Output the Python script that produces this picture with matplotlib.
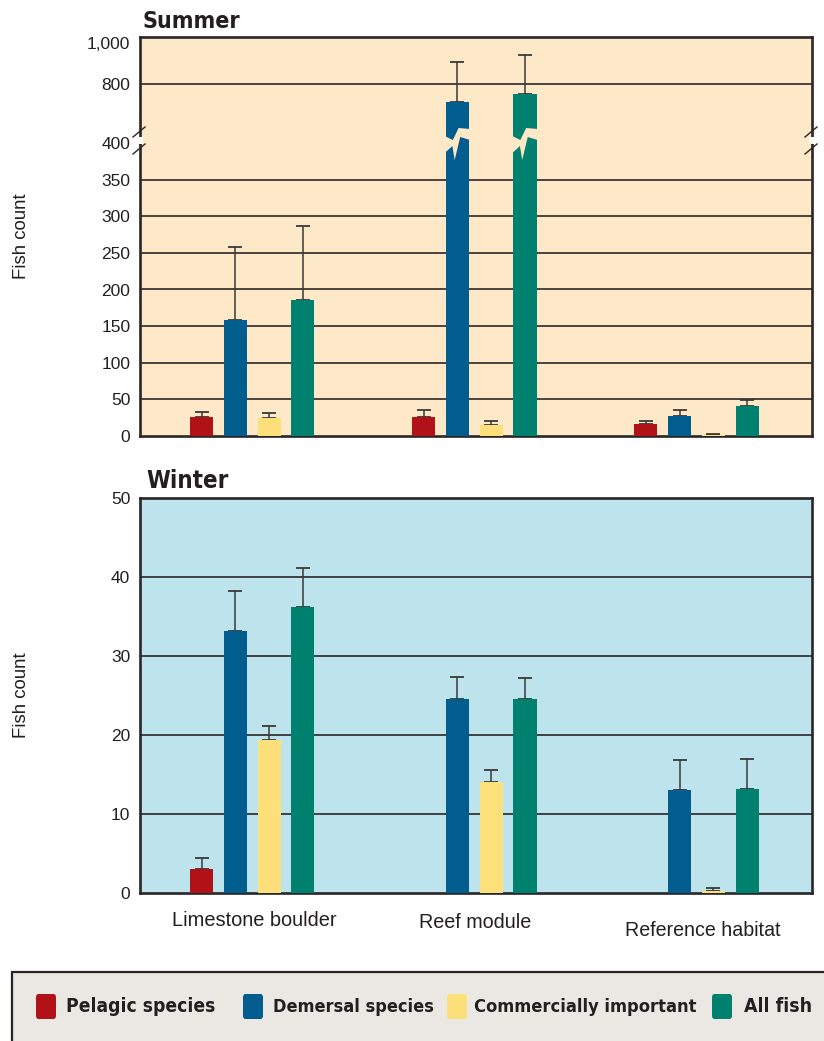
from __future__ import annotations

import matplotlib

matplotlib.use("Agg")
import matplotlib.pyplot as plt
import matplotlib.transforms as mtransforms
import numpy as np
from matplotlib import font_manager
from matplotlib.lines import Line2D
from matplotlib.patches import FancyBboxPatch, Polygon, Rectangle

FIG_W, FIG_H = 824, 1041

sites = ["Limestone boulder", "Reef module", "Reference habitat"]
series = ["Pelagic species", "Demersal species", "Commercially important", "All fish"]
colors = ["#b11218", "#005d8d", "#fee07b", "#00816f"]

# 夏 (平均値と上側の誤差)
summer_pelagic = [26, 26, 16]
summer_pelagic_err = [7, 10, 5]
summer_demersal = [158, 714, 27]
summer_demersal_err = [100, 193, 8]
summer_commercial = [24, 15, 1]
summer_commercial_err = [7, 6, 1.5]
summer_all = [185, 750, 41]
summer_all_err = [102, 190, 8]

# 冬 (nan は棒なし)
winter_pelagic = [3.1, np.nan, np.nan]
winter_pelagic_err = [1.3, np.nan, np.nan]
winter_demersal = [33.2, 24.6, 13.1]
winter_demersal_err = [5.0, 2.7, 3.7]
winter_commercial = [19.4, 14.0, 0.2]
winter_commercial_err = [1.8, 1.6, 0.4]
winter_all = [36.2, 24.6, 13.2]
winter_all_err = [5.0, 2.6, 3.7]

summer_low_ticks = [0, 50, 100, 150, 200, 250, 300, 350, 400]
summer_high_ticks = [800, 1000]
summer_high_labels = ["800", "1,000"]
winter_ticks = [0, 10, 20, 30, 40, 50]

SUMMER_BG = "#fde9c7"
WINTER_BG = "#bde4ed"
FRAME = "#2a2627"
ERR = "#3b3838"
INK = "#231f20"

plt.rcParams["font.family"] = ["Liberation Sans", "DejaVu Sans"]

BAR_W = 0.104
BAR_STEP = 0.152
XLIM = (-0.505, 2.52)


def narrow_bold() -> dict:
    """細身の太字フォントがあればそれを、なければ通常の太字を使う。"""
    for f in font_manager.fontManager.ttflist:
        name = f.name.lower()
        w = f.weight
        if isinstance(w, str):
            w = 700 if "bold" in w else 400
        narrow = "narrow" in name or "condensed" in name or str(f.stretch) in (
            "condensed", "semi-condensed", "extra-condensed")
        if narrow and w >= 600:
            return {"fontproperties": font_manager.FontProperties(fname=f.fname)}
    return {"family": ["Liberation Sans", "DejaVu Sans"], "fontweight": "bold"}


def fx(x: float) -> float:
    return x / FIG_W


def fy(y: float) -> float:
    return 1 - y / FIG_H


def fit_text(fig, t, target_px: float, along: str = "width") -> None:
    """テキストの幅(または高さ)が target_px になるようにサイズを合わせる。"""
    r = fig.canvas.get_renderer()
    bb = t.get_window_extent(r)
    cur = bb.width if along == "width" else bb.height
    t.set_fontsize(t.get_fontsize() * target_px / cur)


def add_axes_px(fig, left, top, right, bottom, bg):
    ax = fig.add_axes([fx(left), fy(bottom), (right - left) / FIG_W, (bottom - top) / FIG_H])
    ax.set_facecolor(bg)
    ax.set_xlim(*XLIM)
    ax.set_xticks([])
    for spine in ax.spines.values():
        spine.set_color(FRAME)
        spine.set_linewidth(1.9)
    ax.tick_params(axis="y", length=0, pad=7, labelsize=12.5, labelcolor=INK)
    return ax


def draw_bars(ax, means, errs) -> None:
    x = np.arange(len(sites))
    for k, (m, e) in enumerate(zip(means, errs)):
        m = np.asarray(m, dtype=float)
        e = np.asarray(e, dtype=float)
        ok = ~np.isnan(m)
        xs = x[ok] + (k - 1.5) * BAR_STEP
        ax.bar(xs, m[ok], width=BAR_W, color=colors[k], zorder=3)
        ax.errorbar(
            xs, m[ok], yerr=[np.zeros(ok.sum()), e[ok]], fmt="none",
            ecolor=ERR, elinewidth=1.1, capsize=5, capthick=1.3, zorder=2,
        )


def gridlines(ax, values) -> None:
    for v in values:
        ax.axhline(v, color=FRAME, linewidth=1.2, zorder=1)


def bar_break(fig, ax, xc: float) -> None:
    """棒の途中を稲妻形に白抜きして値の省略を示す。"""
    h_px = ax.bbox.height
    shape = [(-0.05, 7), (0.3, 3), (0.55, 15), (1.05, 14), (1.05, 3), (0.62, 6),
             (0.38, -17), (0.28, -3), (-0.05, -10)]
    trans = mtransforms.blended_transform_factory(ax.transData, ax.transAxes)
    pts = [(xc - BAR_W / 2 + u * BAR_W, 1 + dy / h_px) for u, dy in shape]
    fig.add_artist(Polygon(pts, closed=True, facecolor=ax.get_facecolor(), edgecolor="none",
                           transform=trans, zorder=5))


def axis_break(fig, x_spine: float) -> None:
    """枠線の切れ目と斜線を描く。"""
    fig.add_artist(Rectangle((fx(x_spine - 3), fy(144)), 6 / FIG_W, 7 / FIG_H,
                             facecolor="white", edgecolor="none",
                             transform=fig.transFigure, zorder=5))
    for y0 in (137, 154):
        fig.add_artist(Line2D([fx(x_spine - 7), fx(x_spine + 5)], [fy(y0), fy(y0 - 10)],
                              color=FRAME, linewidth=1.0, transform=fig.transFigure, zorder=6))


def main() -> None:
    fig = plt.figure(figsize=(FIG_W / 100, FIG_H / 100), dpi=100)
    bold = narrow_bold()

    summer_means = [summer_pelagic, summer_demersal, summer_commercial, summer_all]
    summer_errs = [summer_pelagic_err, summer_demersal_err, summer_commercial_err, summer_all_err]
    winter_means = [winter_pelagic, winter_demersal, winter_commercial, winter_all]
    winter_errs = [winter_pelagic_err, winter_demersal_err, winter_commercial_err, winter_all_err]

    # 夏: 0-400 の下段と 800 付近の上段に分けた軸
    ax_lo = add_axes_px(fig, 140, 143, 812, 436, SUMMER_BG)
    ax_hi = add_axes_px(fig, 140, 37, 812, 143, SUMMER_BG)
    ax_lo.set_ylim(0, 400)
    ax_lo.set_yticks(summer_low_ticks)
    ax_lo.spines["top"].set_visible(False)
    ax_hi.set_ylim(512, 1029)
    ax_hi.set_yticks(summer_high_ticks, summer_high_labels)
    ax_hi.spines["bottom"].set_visible(False)
    gridlines(ax_lo, summer_low_ticks[1:-1])
    gridlines(ax_hi, summer_high_ticks[:1])
    draw_bars(ax_lo, summer_means, summer_errs)
    draw_bars(ax_hi, summer_means, summer_errs)

    x = np.arange(len(sites))
    for k, m in enumerate(summer_means):
        for xi, v in zip(x, m):
            if v > 400:
                bar_break(fig, ax_lo, xi + (k - 1.5) * BAR_STEP)
    axis_break(fig, 140)
    axis_break(fig, 812)

    # 冬
    ax_w = add_axes_px(fig, 140, 498, 812, 893, WINTER_BG)
    ax_w.set_ylim(0, 50)
    ax_w.set_yticks(winter_ticks)
    gridlines(ax_w, winter_ticks[1:-1])
    draw_bars(ax_w, winter_means, winter_errs)

    for name, x0, y0, w in (("Summer", 142, 21, 98), ("Winter", 146, 481, 82)):
        t = fig.text(fx(x0), fy(y0), name, fontsize=19, ha="left", va="center",
                     color=INK, **bold)
        fit_text(fig, t, w)
    for yc in (236, 695):
        t = fig.text(fx(21), fy(yc), "Fish count", fontsize=12, rotation=90,
                     ha="center", va="center", color=INK)
        fit_text(fig, t, 86, along="height")

    # 調査地点名 (少しずつ高さがずれている)
    for name, xc, yc in zip(sites, [254, 475, 703], [921, 923, 930]):
        t = fig.text(fx(xc), fy(yc), name, fontsize=12.5, ha="center", va="center", color=INK)
        fit_text(fig, t, {"Limestone boulder": 165, "Reef module": 112,
                          "Reference habitat": 155}[name])

    # 凡例
    fig.add_artist(Rectangle((fx(12), fy(1060)), (840 - 12) / FIG_W, (1060 - 972) / FIG_H,
                             facecolor="#ebe8e4", edgecolor=FRAME, linewidth=1.6,
                             transform=fig.transFigure, zorder=1))
    widths = [148, 160, 222, 68]
    for label, color, sx, tx, w in zip(series, colors, [36, 243, 447, 712],
                                       [66, 273, 474, 744], widths):
        fig.add_artist(FancyBboxPatch((fx(sx), fy(1019)), 20 / FIG_W, 25 / FIG_H,
                                      boxstyle="round,pad=0,rounding_size=0.003",
                                      facecolor=color, edgecolor="none",
                                      transform=fig.transFigure, zorder=2))
        t = fig.text(fx(tx), fy(1007), label, fontsize=15.5, ha="left", va="center",
                     color=INK, zorder=3, **bold)
        fit_text(fig, t, w)

    fig.savefig("out.png", dpi=100)


if __name__ == "__main__":
    main()
